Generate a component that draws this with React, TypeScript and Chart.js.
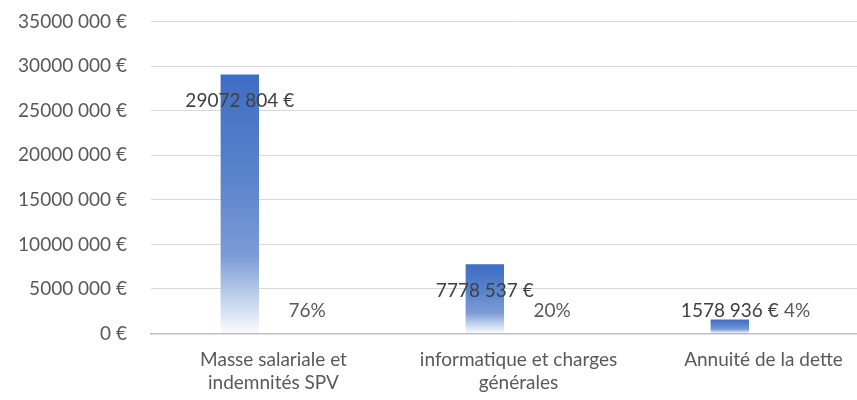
import React, { useEffect, useRef } from "react";
import { Chart, registerables } from "chart.js";

Chart.register(...registerables);

const categories: (string | string[])[] = [
  ["Masse salariale et", "indemnités SPV"],
  ["informatique et charges", "générales"],
  "Annuité de la dette",
];
const amounts = [29072804, 7778537, 1578936];
const shares = [0.76, 0.2, 0.04];
const shareLabels = ["76%", "20%", "4%"];
const yMax = 35000000;
const yStep = 5000000;

const FONT = "Lato";
const FONT_SIZE = 19;

function euro(v: number): string {
  const n = Math.round(v);
  if (n < 1000) return `${n} €`;
  const head = Math.floor(n / 1000);
  const tail = String(n % 1000).padStart(3, "0");
  return `${head} ${tail} €`;
}

const labelPlugin = {
  id: "barLabels",
  afterDatasetsDraw(chart: any) {
    const ctx = chart.ctx;
    const m0 = chart.getDatasetMeta(0);
    const m1 = chart.getDatasetMeta(1);
    ctx.save();
    ctx.font = `${FONT_SIZE}px ${FONT}`;
    ctx.textAlign = "center";
    ctx.textBaseline = "middle";
    m0.data.forEach((bar: any, i: number) => {
      const y = Math.min(bar.y + 26.5, bar.base - 22);
      ctx.fillStyle = "#404040";
      ctx.fillText(euro(amounts[i]), bar.x, y);
    });
    m1.data.forEach((bar: any, i: number) => {
      ctx.fillStyle = "#595959";
      ctx.fillText(shareLabels[i], bar.x, bar.base - 22);
    });
    ctx.restore();
  },
};

function gradientFill(context: any) {
  const chart = context.chart;
  const yScale = chart.scales?.y;
  if (!yScale || !chart.chartArea) return "#4472C4";
  const v = context.raw ?? 0;
  const top = yScale.getPixelForValue(v);
  const bottom = yScale.getPixelForValue(0);
  if (!isFinite(top) || !isFinite(bottom) || bottom - top < 1) return "#4472C4";
  const g = chart.ctx.createLinearGradient(0, top, 0, bottom);
  g.addColorStop(0, "#3E6DC4");
  g.addColorStop(0.4, "#5A84CC");
  g.addColorStop(0.7, "#7C9BD6");
  g.addColorStop(0.85, "#BCCDEB");
  g.addColorStop(1, "#FAFBFE");
  return g;
}

export default function App() {
  const ref = useRef<HTMLCanvasElement | null>(null);

  useEffect(() => {
    if (!ref.current) return;
    const chart = new Chart(ref.current, {
      type: "bar",
      data: {
        labels: categories,
        datasets: [
          {
            label: "Montant",
            data: amounts,
            backgroundColor: gradientFill,
            borderWidth: 0,
            categoryPercentage: 0.55,
            barPercentage: 0.57,
          },
          {
            label: "Part",
            data: shares,
            backgroundColor: "rgba(0,0,0,0)",
            borderWidth: 0,
            categoryPercentage: 0.55,
            barPercentage: 0.57,
          },
        ],
      },
      options: {
        responsive: false,
        animation: false,
        layout: { padding: { top: 21.7, left: 0, right: 0, bottom: 0 } },
        plugins: {
          legend: { display: false },
          tooltip: { enabled: false },
          title: { display: false },
        },
        scales: {
          x: {
            grid: { display: false, drawTicks: false },
            border: { display: true, color: "#BFBFBF", width: 1.5 },
            ticks: {
              color: "#595959",
              font: { family: FONT, size: FONT_SIZE, lineHeight: 1.25 },
              autoSkip: false,
              maxRotation: 0,
              minRotation: 0,
              padding: 14,
            },
            afterFit(scale: any) {
              scale.height = 66.5;
              scale.paddingTop = 0;
              scale.paddingBottom = 0;
            },
          },
          y: {
            min: 0,
            max: yMax,
            grid: { color: "#D9D9D9", lineWidth: 1, drawTicks: false },
            border: { display: false },
            ticks: {
              stepSize: yStep,
              color: "#595959",
              font: { family: FONT, size: FONT_SIZE },
              padding: 24,
              callback: (v: any) => euro(Number(v)),
            },
            afterFit(scale: any) {
              scale.width = 151;
              scale.paddingTop = 0;
              scale.paddingBottom = 0;
            },
          },
        },
      },
      plugins: [labelPlugin],
    });
    if ((document as any).fonts?.load) {
      (document as any).fonts
        .load(`${FONT_SIZE}px ${FONT}`)
        .then(() => chart.update())
        .catch(() => {});
    }
    return () => chart.destroy();
  }, []);

  return (
    <div
      style={{
        position: "fixed",
        left: 0,
        top: 0,
        width: 857,
        height: 400,
        overflow: "hidden",
        background: "#ffffff",
      }}
    >
      <canvas
        ref={ref}
        width={886}
        height={400}
        style={{ display: "block", width: 886, height: 400 }}
      />
    </div>
  );
}
